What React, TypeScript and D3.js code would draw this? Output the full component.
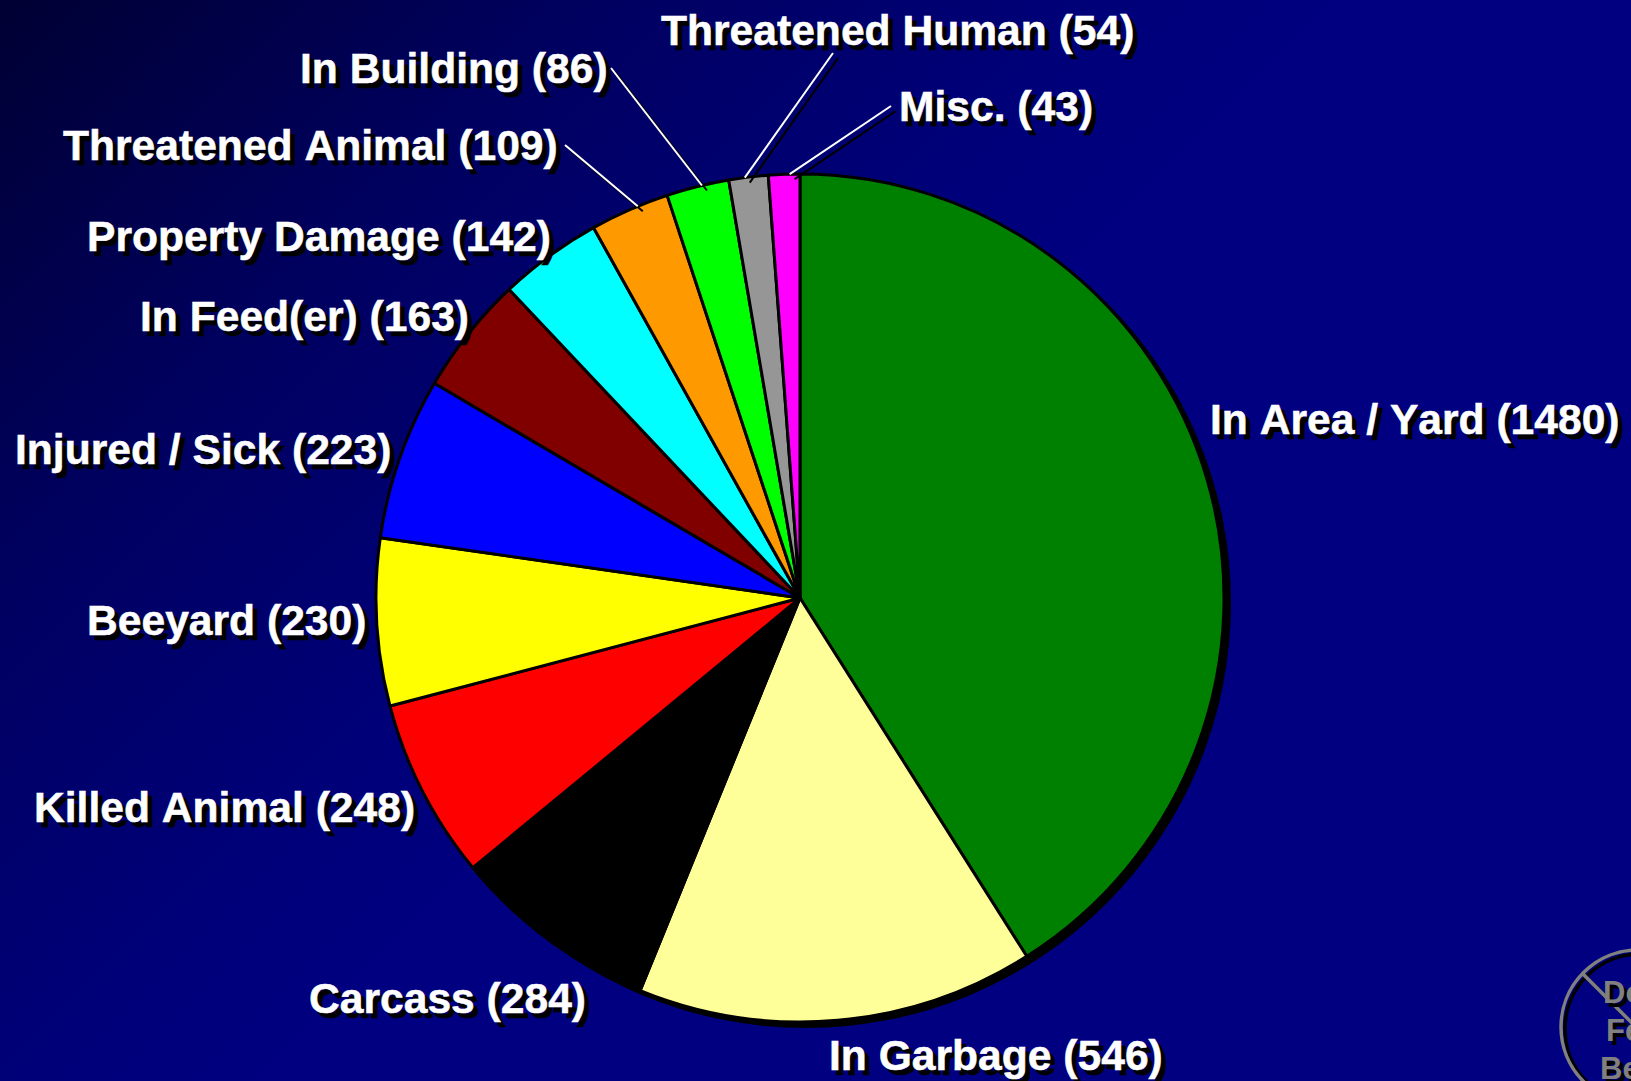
import React from "react";
import * as d3 from "d3";

const categories = ["In Area / Yard", "In Garbage", "Carcass", "Killed Animal", "Beeyard", "Injured / Sick", "In Feed(er)", "Property Damage", "Threatened Animal", "In Building", "Threatened Human", "Misc."];
const counts = [1480, 546, 284, 248, 230, 223, 163, 142, 109, 86, 54, 43];
const sliceColors = ["#008000", "#FFFF99", "#000000", "#FF0000", "#FFFF00", "#0000FF", "#800000", "#00FFFF", "#FF9900", "#00FF00", "#969696", "#FF00FF"];
const labelX = [1210, 829, 309, 34, 87, 15, 140, 87, 63, 300, 661, 899];
const labelY = [434, 1070, 1013, 822, 635, 464, 331, 251, 160, 83, 45, 121];
const leaderStart: (number[] | null)[] = [null, null, null, null, null, null, null, null, [565, 145], [611, 68], [833, 53], [891, 106]];
const leaderNudgeDeg = [0, 0, 0, 0, 0, 0, 0, 0, 1.2, 0.6, -0.5, 0.75];
const badgeLines = ["Do Not", "Feed", "Bears"];
const badgeX = [1603, 1606, 1600];
const badgeY = [1003, 1041, 1079];

const W = 1631, H = 1081, CX = 800, CY = 598, R = 424, SHADOW = 5;

export default function App() {
  const pie = d3.pie<number>().value((d) => d).sort(null);
  const arcs = pie(counts);
  const arc = d3.arc<d3.PieArcDatum<number>>().innerRadius(0).outerRadius(R);
  const font = "'Liberation Sans', Arial, sans-serif";

  const leaders = arcs.map((a, i) => {
    const s = leaderStart[i];
    if (!s) return null;
    const t = (a.startAngle + a.endAngle) / 2 + (leaderNudgeDeg[i] * Math.PI) / 180;
    const r = R;
    return { x1: s[0], y1: s[1], x2: CX + r * Math.sin(t), y2: CY - r * Math.cos(t) };
  });

  return (
    <svg width={W} height={H} style={{ position: "absolute", left: 0, top: 0, display: "block" }}>
      <defs>
        <linearGradient id="bg" gradientUnits="userSpaceOnUse" x1={0} y1={0} x2={675} y2={675}>
          <stop offset="0" stopColor="#000033" />
          <stop offset="0.44" stopColor="#000060" />
          <stop offset="0.81" stopColor="#000078" />
          <stop offset="1" stopColor="#000080" />
        </linearGradient>
      </defs>
      <rect width={W} height={H} fill="url(#bg)" />

      <circle cx={CX + SHADOW + 1} cy={CY + SHADOW} r={R + 1} fill="#000" />
      <g transform={`translate(${CX},${CY})`}>
        {arcs.map((a, i) => (
          <path key={i} d={arc(a) ?? ""} fill={sliceColors[i]} stroke="#000" strokeWidth={3} strokeLinejoin="round" />
        ))}
      </g>

      {leaders.map((l, i) => l && (
        <g key={i} strokeWidth={2}>
          <line x1={l.x1 + SHADOW} y1={l.y1 + SHADOW} x2={l.x2 + SHADOW} y2={l.y2 + SHADOW} stroke="#000" />
          <line x1={l.x1} y1={l.y1} x2={l.x2} y2={l.y2} stroke="#fff" />
        </g>
      ))}

      <g fontFamily={font} fontWeight="bold" fontSize={42.6} style={{ fontKerning: "none" }}>
        {categories.map((c, i) => (
          <g key={c}>
            <text x={labelX[i] + SHADOW} y={labelY[i] + SHADOW} fill="#000" stroke="#000" strokeWidth={0.5}>{`${c} (${counts[i]})`}</text>
            <text x={labelX[i]} y={labelY[i]} fill="#fff" stroke="#fff" strokeWidth={0.5}>{`${c} (${counts[i]})`}</text>
          </g>
        ))}
      </g>

      <g fill="none" strokeWidth={3.5}>
        <circle cx={1640} cy={1029} r={75} stroke="#000" />
        <line x1={1585} y1={976} x2={1670} y2={1061} stroke="#000" />
        <circle cx={1638} cy={1027} r={77} stroke="#808080" />
        <line x1={1583} y1={974} x2={1668} y2={1059} stroke="#808080" />
      </g>
      <g fontFamily={font} fontWeight="bold" fontSize={31}>
        {badgeLines.map((t, i) => (
          <g key={t}>
            <text x={badgeX[i] + 4} y={badgeY[i] + 4} fill="#000">{t}</text>
            <text x={badgeX[i]} y={badgeY[i]} fill="#808080">{t}</text>
          </g>
        ))}
      </g>
    </svg>
  );
}
